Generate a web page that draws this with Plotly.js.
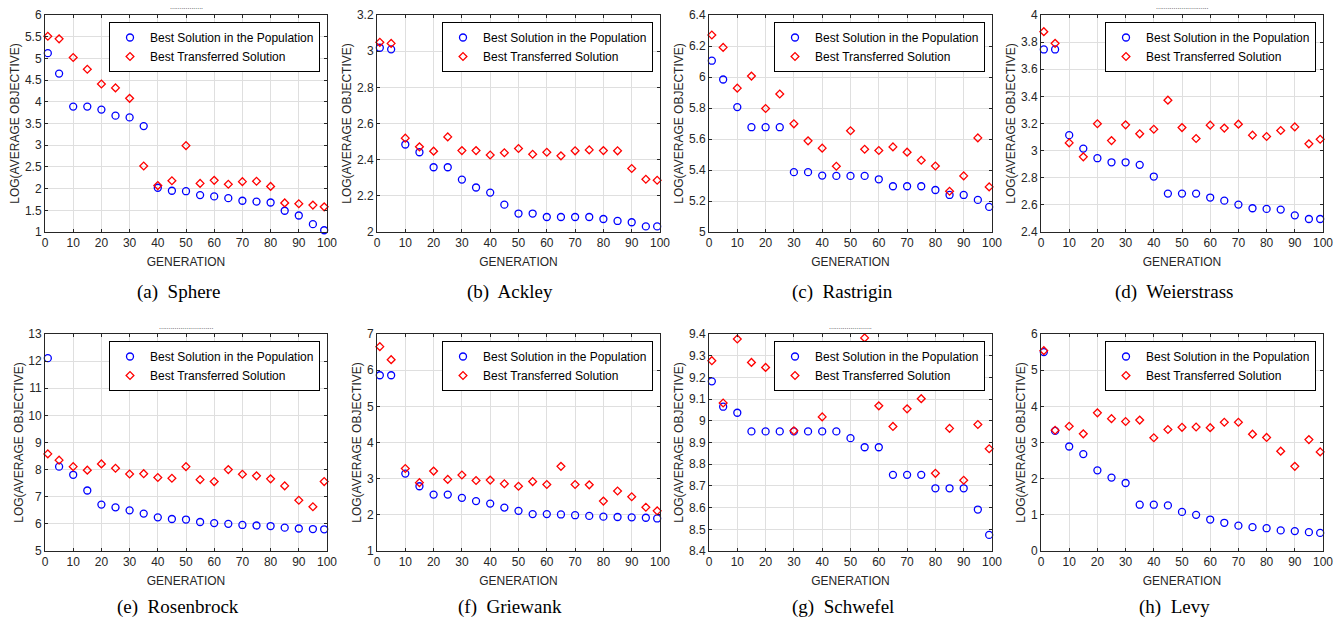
<!DOCTYPE html>
<html>
<head>
<meta charset="utf-8">
<script src="https://cdn.plot.ly/plotly-3.0.1.min.js"></script>
<style>
html,body{margin:0;padding:0;background:#fff;}
#chart{width:1343px;height:623px;}
</style>
</head>
<body>
<div id="chart"></div>
<script>
// Generations sampled
const generations = [1,5,10,15,20,25,30,35,40,45,50,55,60,65,70,75,80,85,90,95,99];

const seriesNames = ['Best Solution in the Population', 'Best Transferred Solution'];
const captions = ['(a)  Sphere','(b)  Ackley','(c)  Rastrigin','(d)  Weierstrass',
                  '(e)  Rosenbrock','(f)  Griewank','(g)  Schwefel','(h)  Levy'];

const sphereBest = [5.12,4.65,3.89,3.89,3.82,3.68,3.64,3.44,2.02,1.95,1.94,1.85,1.82,1.78,1.72,1.70,1.68,1.49,1.38,1.18,1.04];
const sphereTransfer = [5.51,5.45,5.02,4.75,4.41,4.32,4.08,2.52,2.07,2.18,2.99,2.12,2.19,2.10,2.16,2.17,2.05,1.67,1.65,1.62,1.58];

const ackleyBest = [3.019,3.010,2.484,2.441,2.358,2.358,2.290,2.246,2.218,2.151,2.102,2.102,2.083,2.083,2.083,2.083,2.072,2.061,2.054,2.031,2.031];
const ackleyTransfer = [3.049,3.043,2.519,2.471,2.447,2.526,2.450,2.450,2.426,2.438,2.462,2.430,2.441,2.421,2.449,2.454,2.450,2.449,2.351,2.292,2.286];

const rastriginBest = [6.105,5.984,5.806,5.676,5.676,5.676,5.386,5.386,5.364,5.362,5.362,5.362,5.340,5.295,5.295,5.295,5.271,5.239,5.239,5.207,5.162];
const rastriginTransfer = [6.271,6.191,5.928,6.006,5.797,5.890,5.698,5.588,5.541,5.424,5.653,5.534,5.526,5.549,5.515,5.463,5.426,5.263,5.362,5.607,5.291];

const weierstrassBest = [3.746,3.746,3.114,3.015,2.944,2.914,2.914,2.895,2.809,2.683,2.683,2.683,2.654,2.631,2.602,2.575,2.570,2.565,2.523,2.496,2.496];
const weierstrassTransfer = [3.877,3.791,3.057,2.954,3.198,3.074,3.190,3.124,3.158,3.372,3.170,3.089,3.188,3.166,3.195,3.114,3.104,3.148,3.175,3.050,3.084];

const rosenbrockBest = [12.11,8.11,7.81,7.23,6.71,6.61,6.50,6.38,6.24,6.18,6.16,6.07,6.03,6.00,5.96,5.94,5.92,5.86,5.83,5.81,5.80];
const rosenbrockTransfer = [8.58,8.35,8.11,7.98,8.21,8.05,7.84,7.85,7.71,7.68,8.11,7.63,7.56,8.00,7.83,7.77,7.66,7.40,6.87,6.63,7.56];

const griewankBest = [5.86,5.86,3.14,2.79,2.56,2.56,2.47,2.38,2.31,2.20,2.11,2.02,2.02,2.01,1.99,1.97,1.95,1.94,1.93,1.92,1.90];
const griewankTransfer = [6.65,6.29,3.28,2.89,3.21,2.98,3.10,2.95,2.96,2.86,2.79,2.92,2.84,3.34,2.84,2.83,2.38,2.66,2.50,2.21,2.11];

const schwefelBest = [9.182,9.065,9.037,8.951,8.951,8.951,8.951,8.951,8.951,8.951,8.920,8.878,8.878,8.751,8.751,8.751,8.689,8.689,8.689,8.591,8.474];
const schwefelTransfer = [9.277,9.082,9.377,9.269,9.246,9.174,8.954,9.300,9.018,9.174,9.330,9.382,9.069,8.974,9.055,9.102,8.758,8.965,8.726,8.983,8.871];

const levyBest = [5.50,3.32,2.89,2.68,2.23,2.03,1.88,1.28,1.28,1.26,1.08,1.00,0.87,0.78,0.70,0.66,0.63,0.57,0.55,0.52,0.50];
const levyTransfer = [5.54,3.34,3.45,3.24,3.82,3.66,3.58,3.62,3.13,3.36,3.42,3.43,3.41,3.56,3.56,3.23,3.14,2.76,2.34,3.08,2.74];

const bestSeries = [sphereBest, ackleyBest, rastriginBest, weierstrassBest, rosenbrockBest, griewankBest, schwefelBest, levyBest];
const transferSeries = [sphereTransfer, ackleyTransfer, rastriginTransfer, weierstrassTransfer, rosenbrockTransfer, griewankTransfer, schwefelTransfer, levyTransfer];

const yRanges = [[1,6],[2,3.2],[5,6.4],[2.4,4],[5,13],[1,7],[8.4,9.4],[0,6]];
const yDticks = [0.5,0.2,0.2,0.2,1,1,0.1,1];

// ---- layout geometry (pixels) ----
const W = 1343, H = 623;
const colPx = [[45,327],[377,660],[709,992],[1041,1323]];
const rowPx = [[15,232],[334,551]];
const axisColor = '#262626';
const FONT = 'Liberation Sans, Arial, Helvetica, sans-serif';

const traces = [];
const layout = {
  width: W, height: H,
  margin: {l:0, r:0, t:0, b:0},
  paper_bgcolor: '#ffffff',
  plot_bgcolor: '#ffffff',
  font: {family: FONT, size: 12, color: axisColor},
  showlegend: true,
  annotations: [],
  shapes: []
};

for (let i = 0; i < 8; i++) {
  const r = Math.floor(i / 4), c = i % 4;
  const n = i + 1;
  const xa = 'xaxis' + (n === 1 ? '' : n);
  const ya = 'yaxis' + (n === 1 ? '' : n);
  const xr = 'x' + (n === 1 ? '' : n);
  const yr = 'y' + (n === 1 ? '' : n);
  const lg = 'legend' + (n === 1 ? '' : n);
  const [x0, x1] = colPx[c];
  const [y0, y1] = rowPx[r];

  const common = {
    showline: true, linecolor: axisColor, linewidth: 1,
    mirror: 'ticks', ticks: 'inside', ticklen: 3, tickcolor: axisColor,
    showgrid: true, gridcolor: '#dfdfdf', gridwidth: 1, zeroline: false,
    tickfont: {family: FONT, size: 12, color: axisColor}
  };

  layout[xa] = Object.assign({}, common, {
    domain: [x0 / W, x1 / W], anchor: yr,
    range: [0, 100], tick0: 0, dtick: 10,
    title: {text: 'GENERATION', font: {family: FONT, size: 12, color: axisColor}, standoff: 8}
  });
  layout[ya] = Object.assign({}, common, {
    domain: [1 - y1 / H, 1 - y0 / H], anchor: xr,
    range: yRanges[i], tick0: yRanges[i][0], dtick: yDticks[i],
    title: {text: 'LOG(AVERAGE OBJECTIVE)', font: {family: FONT, size: 12, color: axisColor}, standoff: 2}
  });

  layout[lg] = {
    x: (x1 - 7) / W, xanchor: 'right',
    y: 1 - (y0 + 7) / H, yanchor: 'top',
    xref: 'paper', yref: 'paper',
    bgcolor: '#ffffff', bordercolor: '#000000', borderwidth: 1,
    font: {family: FONT, size: 12, color: '#000000'},
    itemwidth: 30, tracegroupgap: 0
  };

  traces.push({
    type: 'scatter', mode: 'markers', x: generations, y: bestSeries[i],
    name: seriesNames[0], xaxis: xr, yaxis: yr, legend: lg,
    cliponaxis: false,
    marker: {symbol: 'circle-open', size: 7, color: '#0000ff', line: {width: 1.3, color: '#0000ff'}}
  });
  traces.push({
    type: 'scatter', mode: 'markers', x: generations, y: transferSeries[i],
    name: seriesNames[1], xaxis: xr, yaxis: yr, legend: lg,
    cliponaxis: false,
    marker: {symbol: 'diamond-open', size: 6, color: '#ff0000', line: {width: 1.3, color: '#ff0000'}}
  });

  layout.annotations.push({
    text: captions[i], xref: 'paper', yref: 'paper',
    x: ((x0 + x1) / 2 - 8) / W, y: 1 - (r === 0 ? 292 : 607) / H,
    xanchor: 'center', yanchor: 'middle', showarrow: false,
    font: {family: 'Liberation Serif, Times New Roman, serif', size: 19, color: '#000000'}
  });
}

// small dotted remnants above some panels
const dotMarks = [[186, 6, 17], [1182, 6, 27], [186, 326, 28], [850, 326, 22]];
dotMarks.forEach(function (d) {
  layout.annotations.push({
    text: '.'.repeat(d[2]), xref: 'paper', yref: 'paper',
    x: d[0] / W, y: 1 - d[1] / H, xanchor: 'center', yanchor: 'middle',
    showarrow: false, font: {family: FONT, size: 7, color: '#333333'}
  });
});

Plotly.newPlot('chart', traces, layout, {displayModeBar: false, staticPlot: true});
</script>
</body>
</html>
